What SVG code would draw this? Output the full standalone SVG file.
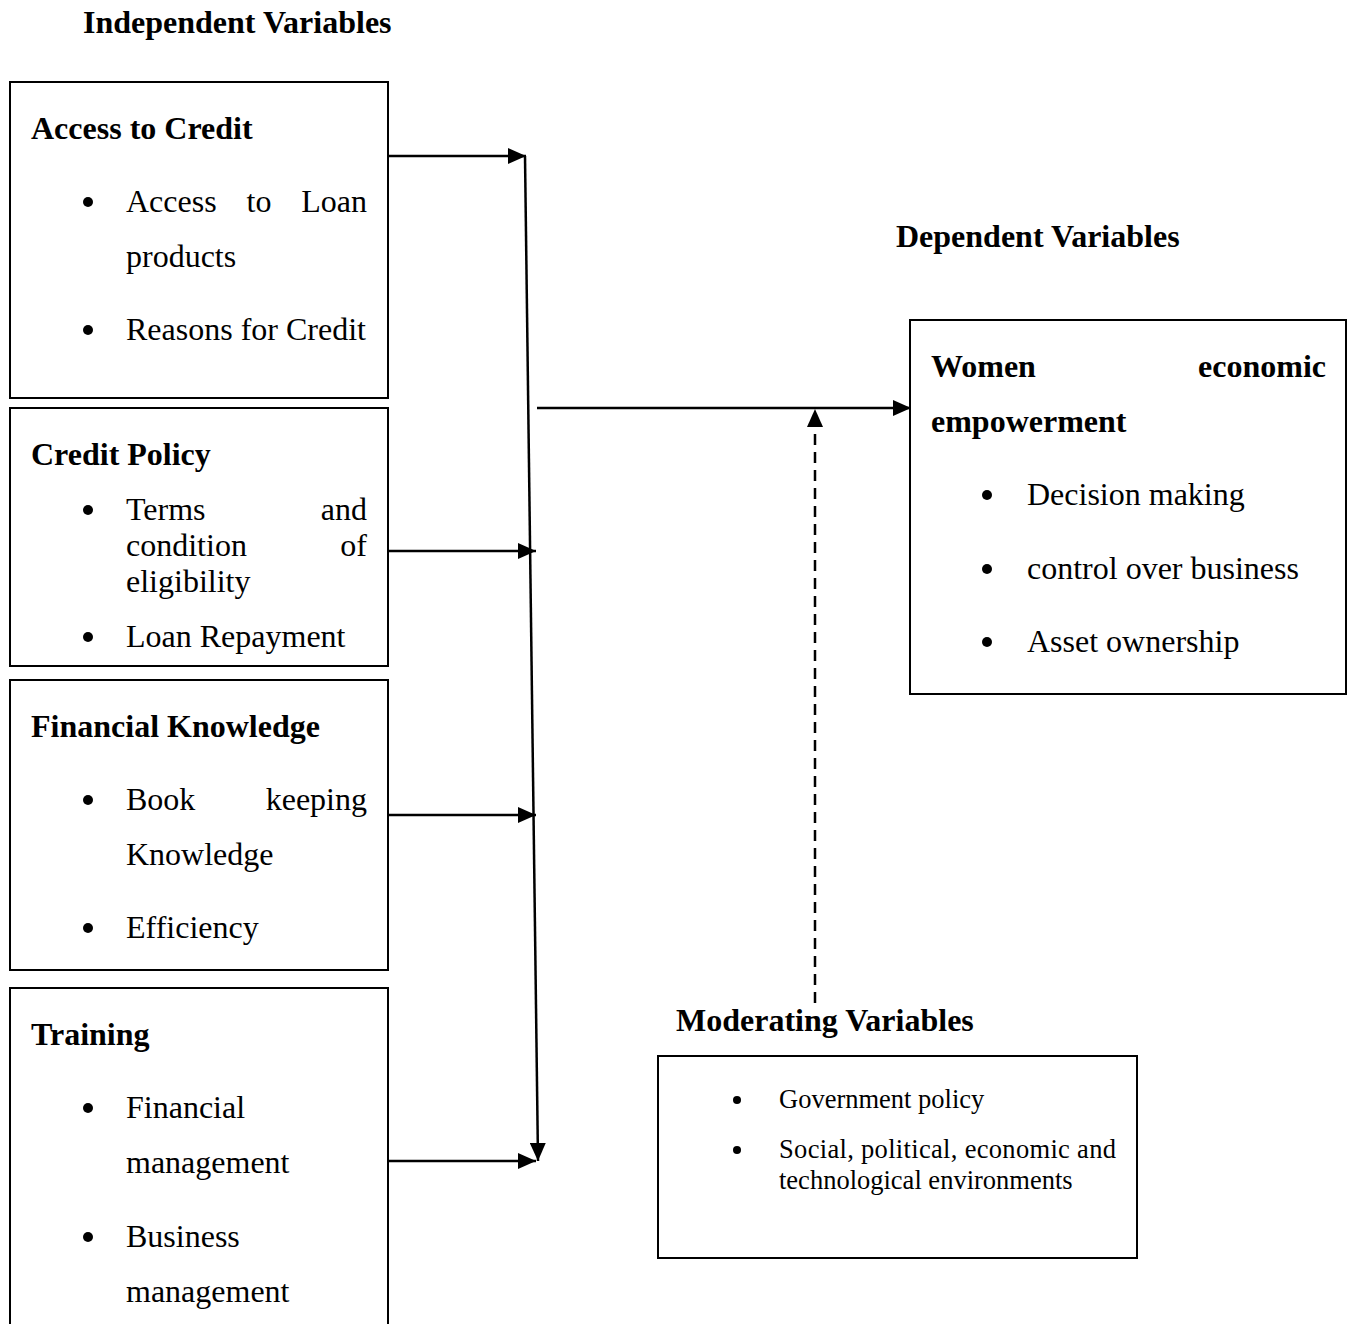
<svg xmlns="http://www.w3.org/2000/svg" width="1347" height="1324" viewBox="0 0 1347 1324">
<style>
.b{fill:#fff;stroke:#000;stroke-width:2}
.h{font-family:"Liberation Serif","Times New Roman",serif;font-weight:bold;font-size:32px;fill:#000}
.t{font-family:"Liberation Serif","Times New Roman",serif;font-size:32px;fill:#000}
.s{font-family:"Liberation Serif","Times New Roman",serif;font-size:26.5px;fill:#000}
.c{stroke:#000;stroke-width:2.5;fill:none}
.d{stroke:#000;stroke-width:2.5;fill:none;stroke-dasharray:11,7}
</style>
<defs>
<marker id="a" viewBox="0 0 18 16" refX="18" refY="8" markerWidth="18" markerHeight="16" markerUnits="userSpaceOnUse" orient="auto">
<path d="M0,0 L18,8 L0,16 z" fill="#000"/>
</marker>
</defs>
<rect width="1347" height="1324" fill="#fff"/>
<text class="h" x="83" y="33">Independent Variables</text>
<text class="h" x="896" y="247">Dependent Variables</text>
<text class="h" x="676" y="1031">Moderating Variables</text>

<g id="access">
<rect class="b" x="10" y="82" width="378" height="316"/>
<text class="h" x="31" y="139">Access to Credit</text>
<circle cx="88" cy="202" r="5"/>
<text class="t" x="126" y="212">Access</text>
<text class="t" x="259" y="212" text-anchor="middle">to</text>
<text class="t" x="367" y="212" text-anchor="end">Loan</text>
<text class="t" x="126" y="267">products</text>
<circle cx="88" cy="330" r="5"/>
<text class="t" x="126" y="340">Reasons for Credit</text>
</g>

<g id="policy">
<rect class="b" x="10" y="408" width="378" height="258"/>
<text class="h" x="31" y="465">Credit Policy</text>
<circle cx="88" cy="510" r="5"/>
<text class="t" x="126" y="520">Terms</text>
<text class="t" x="367" y="520" text-anchor="end">and</text>
<text class="t" x="126" y="556">condition</text>
<text class="t" x="367" y="556" text-anchor="end">of</text>
<text class="t" x="126" y="592">eligibility</text>
<circle cx="88" cy="637" r="5"/>
<text class="t" x="126" y="647">Loan Repayment</text>
</g>

<g id="knowledge">
<rect class="b" x="10" y="680" width="378" height="290"/>
<text class="h" x="31" y="737">Financial Knowledge</text>
<circle cx="88" cy="800" r="5"/>
<text class="t" x="126" y="810">Book</text>
<text class="t" x="367" y="810" text-anchor="end">keeping</text>
<text class="t" x="126" y="865">Knowledge</text>
<circle cx="88" cy="928" r="5"/>
<text class="t" x="126" y="938">Efficiency</text>
</g>

<g id="training">
<path class="b" d="M10,1330 V988 H388 V1330"/>
<text class="h" x="31" y="1045">Training</text>
<circle cx="88" cy="1108" r="5"/>
<text class="t" x="126" y="1118">Financial</text>
<text class="t" x="126" y="1173">management</text>
<circle cx="88" cy="1237" r="5"/>
<text class="t" x="126" y="1247">Business</text>
<text class="t" x="126" y="1302">management</text>
</g>

<g id="dependent">
<rect class="b" x="910" y="320" width="436" height="374"/>
<text class="h" x="931" y="377">Women</text>
<text class="h" x="1326" y="377" text-anchor="end">economic</text>
<text class="h" x="931" y="432">empowerment</text>
<circle cx="987" cy="495" r="5"/>
<text class="t" x="1027" y="505">Decision making</text>
<circle cx="987" cy="569" r="5"/>
<text class="t" x="1027" y="579">control over business</text>
<circle cx="987" cy="642" r="5"/>
<text class="t" x="1027" y="652">Asset ownership</text>
</g>

<g id="moderating">
<rect class="b" x="658" y="1056" width="479" height="202"/>
<circle cx="737" cy="1100" r="4"/>
<text class="s" x="779" y="1108">Government policy</text>
<circle cx="737" cy="1150" r="4"/>
<text class="s" x="779" y="1158" textLength="337" lengthAdjust="spacing">Social, political, economic and</text>
<text class="s" x="779" y="1189">technological environments</text>
</g>

<g id="connectors">
<line class="c" x1="388" y1="156" x2="526" y2="156" marker-end="url(#a)"/>
<line class="c" x1="388" y1="551" x2="536" y2="551" marker-end="url(#a)"/>
<line class="c" x1="388" y1="815" x2="536" y2="815" marker-end="url(#a)"/>
<line class="c" x1="388" y1="1161" x2="536" y2="1161" marker-end="url(#a)"/>
<line class="c" x1="525" y1="156" x2="538" y2="1161" marker-end="url(#a)"/>
<line class="c" x1="537" y1="408" x2="911" y2="408" marker-end="url(#a)"/>
<line class="d" x1="815" y1="1003" x2="815" y2="409" marker-end="url(#a)"/>
</g>
</svg>
